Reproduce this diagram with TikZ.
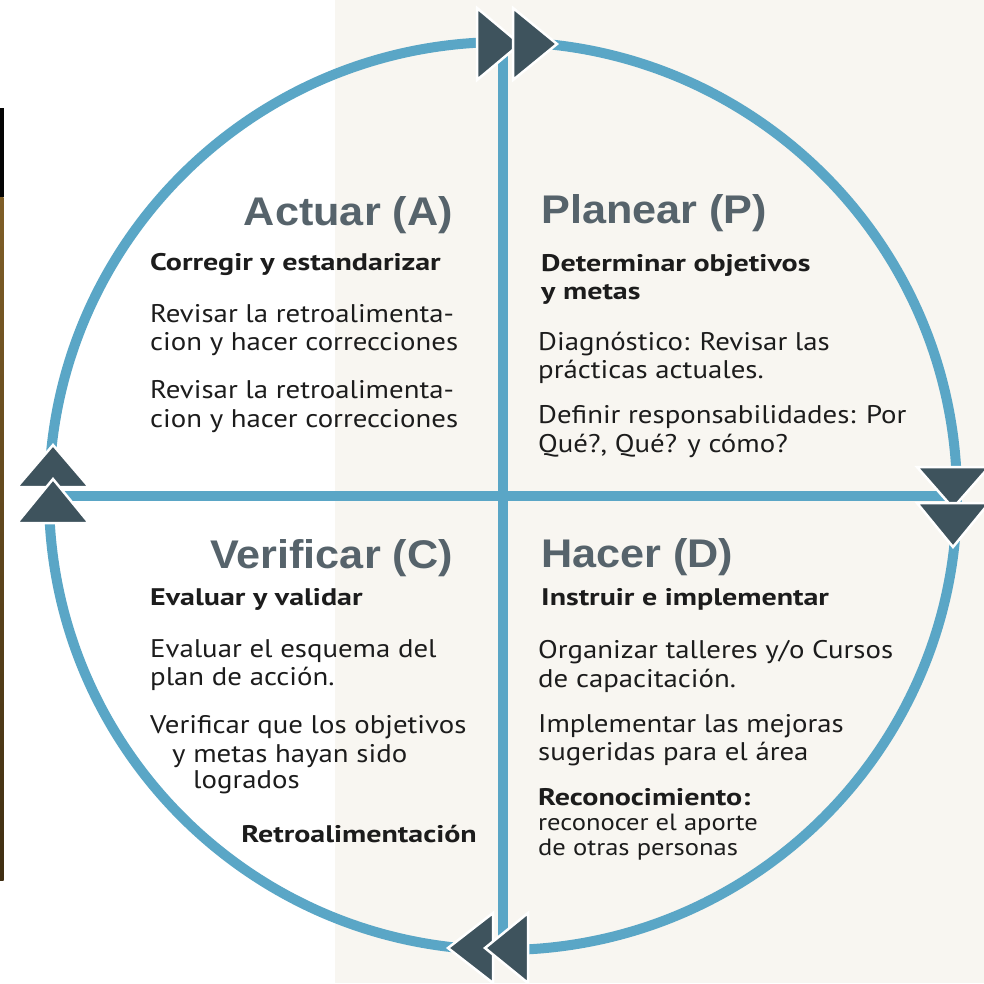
\documentclass[tikz,border=0pt]{standalone}
\usepackage{fontspec}
\setmainfont{PT Sans}
\newfontfamily\titlefont[FakeStretch=1.08]{Liberation Sans}
\newfontfamily\bodyfont[FakeStretch=1.13]{PT Sans}
\newfontfamily\subfont[FakeStretch=1.25]{PT Sans}
\definecolor{ring}{HTML}{5AA6C6}
\definecolor{arrowc}{HTML}{3E535D}
\definecolor{titlec}{HTML}{56636B}
\definecolor{bodyc}{HTML}{1C1C1C}
\definecolor{paper}{HTML}{F8F6F1}
\definecolor{barblack}{HTML}{050505}
\definecolor{bartop}{HTML}{7F5E27}
\definecolor{barbot}{HTML}{3F2E12}
\tikzset{
  ttl/.style={font=\titlefont\bfseries\fontsize{40}{40}\selectfont, text=titlec, inner sep=0},
  sub/.style={font=\subfont\bfseries\fontsize{24}{24}\selectfont, text=bodyc, inner sep=0, anchor=base west},
  body/.style={font=\bodyfont\fontsize{25.5}{25.5}\selectfont, text=bodyc, inner sep=0, anchor=base west},
  small/.style={font=\bodyfont\fontsize{23.5}{23.5}\selectfont, text=bodyc, inner sep=0, anchor=base west},
  ringline/.style={draw=ring, line width=10},
  tri/.style={fill=arrowc, draw=white, line width=2.5, line join=miter}
}
\begin{document}
\begin{tikzpicture}[x=1pt,y=-1pt]
\useasboundingbox (0,0) rectangle (984,983);
% background
\fill[white] (0,0) rectangle (984,983);
\fill[paper] (335,0) rectangle (984,983);
% left bar
\fill[barblack] (0,108) rectangle (3.5,197);
\shade[top color=bartop, bottom color=barbot] (0,197) rectangle (3.5,880);
% ring and cross
\coordinate (c) at (503,496);
\coordinate (top) at (503,42);
\coordinate (bot) at (503,950);
\coordinate (lft) at (49,496);
\coordinate (rgt) at (957,496);
\draw[ringline] (c) circle [radius=454];
\draw[ringline] (top) -- (bot);
\draw[ringline] (lft) -- (rgt);
% arrows top (pointing right)
\draw[tri] (477,8) -- (477,80) -- (520,44) -- cycle;
\draw[tri] (513,8) -- (513,80) -- (557,44) -- cycle;
% arrows right (pointing down)
\draw[tri] (917,467) -- (989,467) -- (953,508) -- cycle;
\draw[tri] (917,503) -- (989,503) -- (953,547) -- cycle;
% arrows left (pointing up)
\draw[tri] (17,487) -- (89,487) -- (53,445) -- cycle;
\draw[tri] (17,523) -- (89,523) -- (53,479) -- cycle;
% arrows bottom (pointing left)
\draw[tri] (493,913) -- (493,983) -- (448,948) -- cycle;
\draw[tri] (528,913) -- (528,983) -- (485,948) -- cycle;

% Actuar
\node[ttl, anchor=base east] (tA) at (453,225) {Actuar (A)};
\node[sub] (sA) at (150,270) {Corregir y estandarizar};
\node[body] (a1) at (150,322) {Revisar la retroalimenta-};
\node[body] (a2) at (150,350) {cion y hacer correcciones};
\node[body] (a3) at (150,398) {Revisar la retroalimenta-};
\node[body] (a4) at (150,427) {cion y hacer correcciones};

% Planear
\node[ttl, anchor=base west] (tP) at (541,223) {Planear (P)};
\node[sub] (sP1) at (541,271) {Determinar objetivos};
\node[sub] (sP2) at (541,299) {y metas};
\node[body] (p1) at (538,350) {Diagnóstico: Revisar las};
\node[body] (p2) at (538,378) {prácticas actuales.};
\node[body] (p3) at (538,423) {Definir responsabilidades: Por};
\node[body] (p4) at (538,452) {Qué?, Qué? y cómo?};

% Verificar
\node[ttl, anchor=base east] (tC) at (453,568) {Verificar (C)};
\node[sub] (sC) at (150,605) {Evaluar y validar};
\node[body] (v1) at (150,657) {Evaluar el esquema del};
\node[body] (v2) at (150,685) {plan de acción.};
\node[body] (v3) at (150,733) {Verificar que los objetivos};
\node[body] (v4) at (172,762) {y metas hayan sido};
\node[body] (v5) at (193,788) {logrados};
\node[sub, anchor=base east] (sC2) at (477,842) {Retroalimentación};

% Hacer
\node[ttl, anchor=base west] (tD) at (541,567) {Hacer (D)};
\node[sub] (sD) at (541,605) {Instruir e implementar};
\node[body] (h1) at (538,658) {Organizar talleres y/o Cursos};
\node[body] (h2) at (538,687) {de capacitación.};
\node[body] (h3) at (538,732) {Implementar las mejoras};
\node[body] (h4) at (538,760) {sugeridas para el área};
\node[sub] (sD2) at (538,805) {Reconocimiento:};
\node[small] (h5) at (538,830) {reconocer el aporte};
\node[small] (h6) at (538,855) {de otras personas};
\end{tikzpicture}
\end{document}
